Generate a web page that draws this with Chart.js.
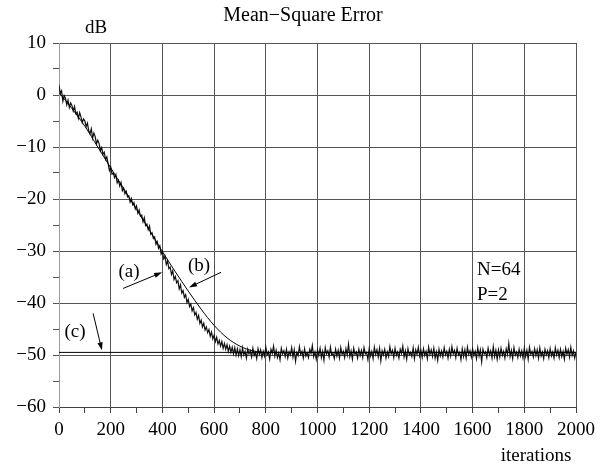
<!DOCTYPE html>
<html>
<head>
<meta charset="utf-8">
<script src="https://cdn.jsdelivr.net/npm/chart.js@4.4.1/dist/chart.umd.min.js"></script>
<style>
    html, body { margin: 0; padding: 0; background: #fff; }
    #wrap { width: 603px; height: 467px; position: relative; }
</style>
</head>
<body>
<div id="wrap"><canvas id="chart"></canvas></div>
<script>
// (a) simulated learning curve, one value every SAMPLE_STEP iterations
const SAMPLE_STEP = 5;
const curveA = [
    1.9, 0.3, 0.8, -1.2, -0.1, -0.6, -1.9, -1.0, -2.4, -1.5, -2.0, -3.1, -2.2, -3.6, -3.3, -4.5, -3.4, -4.2, -5.3, -4.6,
    -5.0, -6.1, -5.4, -6.9, -7.4, -6.5, -8.3, -7.3, -8.0, -9.4, -8.7, -9.3, -10.7, -10.1, -11.4, -11.0, -12.4, -11.9, -13.2, -14.5,
    -13.8, -15.2, -15.0, -15.9, -15.3, -16.9, -16.4, -17.5, -16.8, -18.4, -17.9, -19.0, -18.5, -19.6, -19.4, -20.6, -19.9, -21.1, -20.7, -21.9,
    -21.3, -22.7, -22.1, -23.3, -23.1, -24.4, -23.6, -25.1, -24.8, -25.9, -25.2, -26.8, -26.5, -27.6, -27.3, -28.7, -28.2, -29.5, -29.0, -30.6,
    -30.1, -31.5, -31.0, -32.6, -31.9, -33.4, -33.1, -34.5, -33.8, -35.5, -34.9, -36.1, -35.7, -37.3, -36.5, -38.1, -37.6, -38.9, -38.4, -39.9,
    -39.3, -40.7, -40.2, -41.5, -40.9, -42.3, -41.8, -43.1, -42.4, -43.9, -43.3, -44.6, -43.9, -45.2, -44.6, -45.7, -45.1, -46.4, -45.6, -46.9,
    -46.2, -47.4, -46.6, -47.9, -47.2, -48.3, -47.4, -48.7, -47.8, -48.9, -48.0, -49.3, -48.3, -49.5, -48.5, -49.8, -48.6, -50.0, -48.8, -50.1,
    -49.0, -50.3, -48.6, -50.0, -49.3, -50.6, -48.9, -49.8, -49.2, -50.4, -48.7, -50.1, -49.5, -50.7, -48.8, -49.9, -49.0, -50.5, -49.3, -50.2,
    -48.5, -50.0, -49.4, -50.8, -48.9, -49.7, -48.3, -50.2, -49.1, -50.5, -49.6, -50.9, -48.7, -49.8, -49.2, -50.3, -48.9, -50.6, -49.4, -50.0,
    -48.6, -50.4, -49.0, -51.2, -49.5, -50.1, -48.4, -49.9, -49.3, -50.6, -48.8, -50.2, -49.6, -50.5, -48.9, -49.7, -48.2, -50.3, -49.4, -50.8,
    -49.0, -50.1, -48.7, -50.5, -49.3, -51.0, -48.6, -49.8, -49.2, -50.4, -48.5, -50.0, -49.7, -50.7, -48.9, -50.2, -49.1, -50.6, -48.6, -49.9,
    -49.3, -50.5, -48.8, -50.0, -47.9, -50.3, -49.2, -50.8, -48.7, -49.9, -49.4, -50.6, -48.9, -50.1, -49.1, -50.5, -48.6, -49.8, -49.5, -50.9,
    -48.8, -50.2, -49.3, -50.7, -48.5, -49.9, -49.0, -50.4, -48.7, -51.1, -49.2, -50.0, -48.9, -50.6, -49.4, -50.3, -48.4, -49.8, -49.1, -50.5,
    -48.7, -50.1, -49.4, -50.6, -48.9, -49.7, -48.3, -50.4, -49.2, -50.8, -48.8, -50.0, -49.5, -50.3, -48.6, -50.7, -49.0, -49.9, -48.5, -50.2,
    -49.1, -50.5, -48.8, -50.1, -49.3, -50.7, -48.5, -49.9, -49.0, -50.3, -48.7, -50.6, -49.4, -51.0, -48.9, -50.2, -49.2, -50.4, -48.6, -50.0,
    -49.3, -50.6, -48.9, -50.2, -48.4, -49.8, -49.1, -50.5, -48.7, -50.0, -49.5, -50.9, -48.8, -50.3, -49.0, -50.6, -48.5, -49.9, -49.2, -50.4,
    -48.8, -50.1, -49.3, -50.7, -48.6, -50.2, -49.0, -51.3, -48.9, -49.8, -49.4, -50.5, -48.7, -50.0, -49.2, -50.6, -48.4, -50.3, -49.1, -50.8,
    -49.0, -50.4, -48.7, -50.1, -49.3, -50.6, -48.8, -49.9, -47.8, -50.3, -49.1, -50.7, -48.6, -50.0, -49.4, -50.5, -48.9, -50.2, -49.2, -50.6,
    -48.7, -50.3, -49.1, -50.8, -48.5, -49.9, -49.3, -50.4, -48.8, -50.1, -49.0, -50.6, -48.6, -50.2, -49.4, -50.7, -48.9, -50.0, -49.2, -50.5,
    -48.8, -50.2, -49.4, -50.6, -48.6, -50.0, -49.1, -50.5, -48.9, -50.3, -49.3, -50.8, -48.7, -49.9, -49.0, -50.4, -48.5, -50.1, -49.2, -50.6,
    -49.4
];

// (b) theoretical curve
const theoryIters = [0, 50, 100, 150, 200, 250, 300, 350, 400, 450, 500, 550, 600, 650, 700, 750, 800, 900, 2000];
const theoryB = [0.5, -2.6, -6.0, -10.0, -14.0, -18.0, -22.0, -26.0, -30.1, -34.0, -37.7, -41.2, -44.3, -46.7, -48.3, -49.2, -49.5, -49.5, -49.5];

// (c) steady-state level
const floorIters = [0, 2000];
const floorC = [-49.5, -49.5];

const xMin = 0, xMax = 2000, xStep = 100, xLabelEvery = 200;
const yMin = -60, yMax = 10, yStep = 5, yLabelEvery = 10;

const SERIF = '"Liberation Serif", "DejaVu Serif", serif';

function toPoints(xs, ys) {
    return ys.map((y, i) => ({ x: xs[i], y: y }));
}

function minus(v) {
    return v < 0 ? '\u2212' + Math.abs(v) : String(v);
}

function drawArrow(ctx, x1, y1, x2, y2) {
    const ang = Math.atan2(y2 - y1, x2 - x1);
    const len = 8, half = 2.6;
    ctx.beginPath();
    ctx.moveTo(x1, y1);
    ctx.lineTo(x2 - Math.cos(ang) * len * 0.8, y2 - Math.sin(ang) * len * 0.8);
    ctx.stroke();
    ctx.beginPath();
    ctx.moveTo(x2, y2);
    ctx.lineTo(x2 - Math.cos(ang) * len - Math.sin(ang) * half, y2 - Math.sin(ang) * len + Math.cos(ang) * half);
    ctx.lineTo(x2 - Math.cos(ang) * len + Math.sin(ang) * half, y2 - Math.sin(ang) * len - Math.cos(ang) * half);
    ctx.closePath();
    ctx.fill();
}

// labels and arrows, placed in data units
const notes = [
    { text: '(a)', x: 271, y: -34.1, from: [248, -37.2], to: [399, -34.1] },
    { text: '(b)', x: 542, y: -32.9, from: [627, -34.1], to: [503, -37.0] },
    { text: '(c)', x: 62, y: -45.5, from: [132, -42.0], to: [166, -49.1] }
];

const annotations = {
    id: 'annotations',
    afterDatasetsDraw(chart) {
        const { ctx, scales: { x, y } } = chart;
        ctx.save();
        ctx.fillStyle = '#000';
        ctx.strokeStyle = '#000';
        ctx.lineWidth = 1;
        ctx.font = '19px ' + SERIF;
        ctx.textAlign = 'center';
        ctx.textBaseline = 'middle';
        notes.forEach((n) => {
            ctx.fillText(n.text, x.getPixelForValue(n.x), y.getPixelForValue(n.y));
            drawArrow(ctx,
                x.getPixelForValue(n.from[0]), y.getPixelForValue(n.from[1]),
                x.getPixelForValue(n.to[0]), y.getPixelForValue(n.to[1]));
        });

        ctx.textAlign = 'left';
        ctx.fillText('N=64', x.getPixelForValue(1617), y.getPixelForValue(-33.7));
        ctx.fillText('P=2', x.getPixelForValue(1617), y.getPixelForValue(-38.4));

        ctx.textAlign = 'center';
        ctx.font = '20px ' + SERIF;
        ctx.fillText('Mean\u2212Square Error', 303, 16);
        ctx.font = '19px ' + SERIF;
        ctx.fillText('dB', 96, 28);
        ctx.fillText('iterations', 536, 456);
        ctx.restore();
    }
};

const ctx = document.getElementById('chart');

new Chart(ctx, {
    type: 'line',
    data: {
        datasets: [
            {
                label: '(c)',
                data: toPoints(floorIters, floorC),
                borderColor: '#000',
                borderWidth: 1,
                pointRadius: 0
            },
            {
                label: '(b)',
                data: toPoints(theoryIters, theoryB),
                borderColor: '#000',
                borderWidth: 1,
                pointRadius: 0,
                cubicInterpolationMode: 'monotone'
            },
            {
                label: '(a)',
                data: curveA.map((v, i) => ({ x: i * SAMPLE_STEP, y: v })),
                borderColor: '#111',
                borderWidth: 1.2,
                pointRadius: 0,
                tension: 0
            }
        ]
    },
    options: {
        responsive: true,
        maintainAspectRatio: false,
        animation: false,
        layout: {
            padding: { left: 0, right: 27, top: 43, bottom: 0 }
        },
        plugins: {
            legend: { display: false },
            title: { display: false },
            tooltip: { enabled: false }
        },
        scales: {
            x: {
                type: 'linear',
                min: xMin,
                max: xMax,
                afterFit: (scale) => { scale.height = 60; },
                border: { color: '#444', width: 1 },
                grid: {
                    color: (c) => (c.tick && c.tick.value % xLabelEvery === 0) ? '#555' : 'rgba(0,0,0,0)',
                    tickColor: '#444',
                    tickLength: 6,
                    lineWidth: 1
                },
                ticks: {
                    stepSize: xStep,
                    autoSkip: false,
                    maxRotation: 0,
                    padding: 6,
                    color: '#000',
                    font: { family: SERIF, size: 19 },
                    callback: (v) => (v % xLabelEvery === 0 ? String(v) : '')
                }
            },
            y: {
                min: yMin,
                max: yMax,
                afterFit: (scale) => { scale.width = 59; },
                border: { color: '#999', width: 1 },
                grid: {
                    color: (c) => (c.tick && c.tick.value % yLabelEvery === 0) ? '#555' : 'rgba(0,0,0,0)',
                    tickColor: '#555',
                    tickLength: 6,
                    lineWidth: 1
                },
                ticks: {
                    stepSize: yStep,
                    autoSkip: false,
                    padding: 7,
                    color: '#000',
                    font: { family: SERIF, size: 19 },
                    callback: (v) => (v % yLabelEvery === 0 ? minus(v) : '')
                }
            }
        }
    },
    plugins: [annotations]
});
</script>
</body>
</html>
